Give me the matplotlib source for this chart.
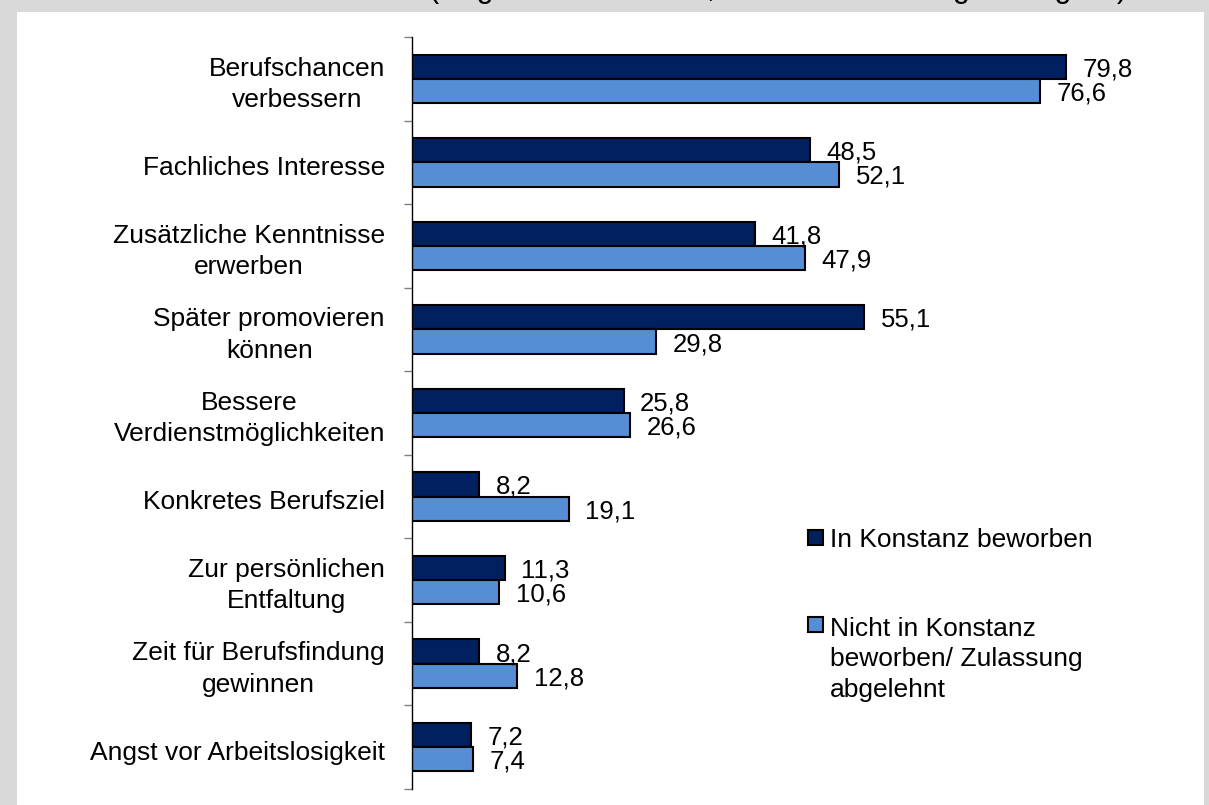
import numpy as np
import matplotlib.pyplot as plt
from matplotlib.patches import Rectangle

# data
categories = ['Berufschancen\nverbessern', 'Fachliches Interesse',
              'Zusätzliche Kenntnisse\nerwerben', 'Später promovieren\nkönnen',
              'Bessere\nVerdienstmöglichkeiten', 'Konkretes Berufsziel',
              'Zur persönlichen\nEntfaltung', 'Zeit für Berufsfindung\ngewinnen',
              'Angst vor Arbeitslosigkeit']
konstanz = [79.8, 48.5, 41.8, 55.1, 25.8, 8.2, 11.3, 8.2, 7.2]
nicht_konstanz = [76.6, 52.1, 47.9, 29.8, 26.6, 19.1, 10.6, 12.8, 7.4]
series_names = ['In Konstanz beworben',
                'Nicht in Konstanz\nbeworben/ Zulassung\nabgelehnt']
title = '(Angaben in Prozent, Mehrfachnennungen möglich)'

W, H = 1209, 805
dark = '#002060'
light = '#558ED5'
fs = 19        # category labels and legend
fs_val = 18.5  # value labels

plt.rcParams['font.family'] = ['Liberation Sans', 'DejaVu Sans']

fig = plt.figure(figsize=(W / 100, H / 100), dpi=100, facecolor='#d9d9d9')
fig.patches.append(Rectangle((17 / W, 0), (1204 - 17) / W, 1 - 12 / H,
                             transform=fig.transFigure, facecolor='white',
                             edgecolor='none', zorder=-5))
# title is cut off at the top of the image, only the descenders show
fig.text(1127 / W, 1 + 3 / H, title, ha='right', va='baseline', fontsize=22)

ax = fig.add_axes([412 / W, 1 - 789 / H, (1150 - 412) / W, (789 - 37) / H])
ax.set_facecolor('none')

y = np.arange(len(categories))
h = 0.29
ax.barh(y - h / 2, konstanz, height=h, color=dark, edgecolor='black', linewidth=1.5, zorder=2)
ax.barh(y + h / 2, nicht_konstanz, height=h, color=light, edgecolor='black', linewidth=1.5, zorder=2)

def fmt(v):
    return ('%.1f' % v).replace('.', ',')

for yy, v in zip(y - h / 2, konstanz):
    ax.annotate(fmt(v), xy=(v, yy), xytext=(12, 0), textcoords='offset points',
                ha='left', va='center_baseline', fontsize=fs_val, zorder=3)
for yy, v in zip(y + h / 2, nicht_konstanz):
    ax.annotate(fmt(v), xy=(v, yy), xytext=(12, 0), textcoords='offset points',
                ha='left', va='center_baseline', fontsize=fs_val, zorder=3)

for i, cat in enumerate(categories):
    ax.annotate(cat, xy=(0, i), xycoords=ax.get_yaxis_transform(),
                xytext=(-19.5, -4), textcoords='offset points', ha='right',
                va='center', multialignment='center', linespacing=1.4,
                fontsize=fs)

ax.set_xlim(0, 90)
ax.set_ylim(len(categories) - 0.5, -0.5)
ax.set_xticks([])
ax.set_yticks(np.arange(-0.5, len(categories), 1))
ax.set_yticklabels([])
ax.tick_params(axis='y', length=6, width=1, color='#808080')
for s in ['top', 'right', 'bottom']:
    ax.spines[s].set_visible(False)
ax.spines['left'].set_linewidth(1)

# legend drawn by hand so the box sits at the first line of the text
sq = 15
for top, txt_top, name, col in zip([530, 617], [528, 617], series_names, [dark, light]):
    fig.patches.append(Rectangle((808 / W, 1 - (top + sq) / H), sq / W, sq / H,
                                 transform=fig.transFigure, facecolor=col,
                                 edgecolor='black', linewidth=1.5))
    fig.text(830 / W, 1 - txt_top / H, name, ha='left', va='top',
             fontsize=fs, linespacing=1.33)

fig.savefig('out.png', dpi=100, facecolor=fig.get_facecolor())
